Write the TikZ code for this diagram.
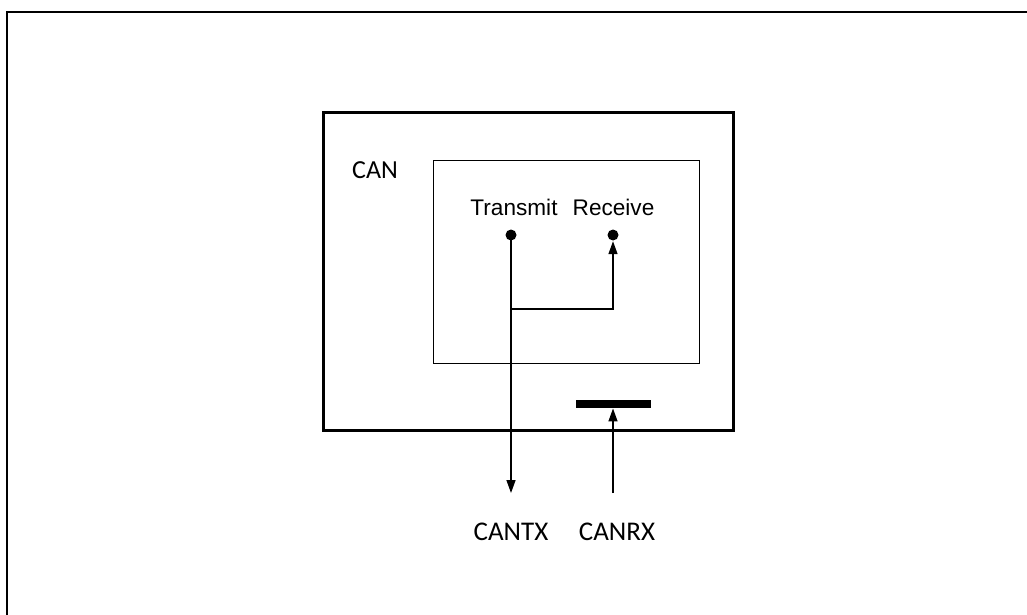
\documentclass[tikz,border=0pt]{standalone}
\usepackage{fontspec}
\setmainfont{Carlito}
\newfontfamily\arialfont{Liberation Sans}
\usetikzlibrary{arrows.meta,positioning}

\begin{document}
\begin{tikzpicture}[x=1pt, y=-1pt, line width=1.4pt,
    >={Triangle[length=13pt, width=9pt]},
    pin/.style={circle, fill, inner sep=0pt, minimum size=11pt},
    sig/.style={font=\fontsize{27}{30}\selectfont, anchor=base},
    port/.style={font=\arialfont\fontsize{22.6}{26}\selectfont, anchor=base}]
  \useasboundingbox (0,0) rectangle (1027,615);
  \draw[line width=2pt] (7,615) -- (7,12) -- (1027,12);
  % boxes
  \node[draw, line width=3pt, minimum width=410pt, minimum height=317pt] (canbox) at (528,271.5) {};
  \node[draw, minimum width=266pt, minimum height=202.6pt] (corebox) at (566.3,262) {};
  \node[font=\fontsize{26}{30}\selectfont] (canlbl) at (375,170.5) {CAN};
  % transmit / receive
  \node[port] (txlbl) at (514,215) {Transmit};
  \node[port] (rxlbl) at (613.5,215) {Receive};
  \node[pin] (txpin) at (511,235) {};
  \node[pin] (rxpin) at (613,235) {};
  \coordinate (loop) at (511,309);
  \coordinate (txend) at (511,493);
  \coordinate (rxend) at (613,493);
  \node[fill, inner sep=0pt, minimum width=75pt, minimum height=7.5pt] (rxbar) at (613.5,404) {};
  \draw[->] (txpin.center) -- (txend);
  \draw[->] (loop) -| (rxpin.south);
  \draw[->] (rxend) -- (rxend |- rxbar.south);
  % pins
  \node[sig] (cantx) at (511,540) {CANTX};
  \node[sig] (canrx) at (617,540) {CANRX};
\end{tikzpicture}
\end{document}
